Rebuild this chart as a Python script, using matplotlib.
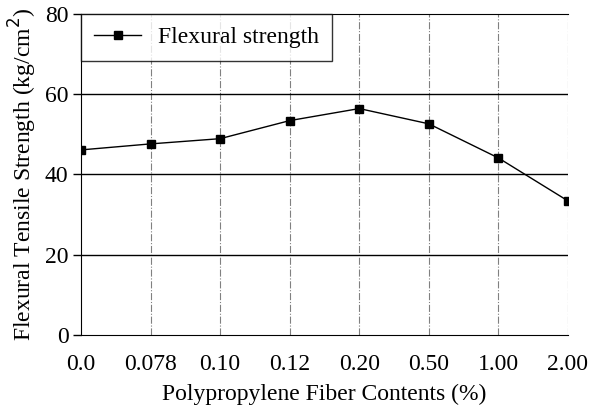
import numpy as np
import matplotlib.pyplot as plt

# Datos
contenidos = ["0.0", "0.078", "0.10", "0.12", "0.20", "0.50", "1.00", "2.00"]
resistencia = [46.1, 47.6, 48.9, 53.4, 56.4, 52.6, 44.1, 33.4]

plt.rcParams['font.family'] = ['Liberation Serif', 'DejaVu Serif']

fig, ax = plt.subplots(figsize=(5.91, 4.07), dpi=100)
fig.subplots_adjust(left=0.137, right=0.961, top=0.966, bottom=0.177)

x = np.arange(len(contenidos))

# Cuadrícula: verticales grises de trazo y punto, horizontales negras
for xi in x[1:]:
    ax.axvline(xi, color='0.5', lw=0.8, ls='-.', zorder=1)
for yv in [20, 40, 60]:
    ax.axhline(yv, color='black', lw=1.0, zorder=1)

ax.plot(x, resistencia, color='black', lw=1.0, marker='s', ms=5.5,
        label='Flexural strength', zorder=3)

ax.set_xlim(0, len(contenidos) - 1)
ax.set_ylim(0, 80)
ax.set_xticks(x)
ax.set_xticklabels(contenidos)
ax.set_yticks([0, 20, 40, 60, 80])
ax.tick_params(axis='x', length=0, pad=14, labelsize=17)
ax.tick_params(axis='y', length=6, width=1, labelsize=17, direction='out', pad=3)

for s in ['left', 'bottom', 'top']:
    ax.spines[s].set_color('black')
ax.spines['right'].set_visible(False)

ax.set_xlabel("Polypropylene Fiber Contents (%)", fontsize=17, labelpad=6)
ax.set_ylabel("Flexural Tensile Strength (kg/cm$^2$)", fontsize=17, labelpad=4)

leg = ax.legend(loc='upper left', fontsize=17, frameon=True, fancybox=False,
                borderaxespad=0, handlelength=2.0, borderpad=0.55,
                handletextpad=0.7)
leg.get_frame().set_edgecolor('black')
leg.get_frame().set_linewidth(1.0)
leg.set_zorder(5)

plt.savefig("out.png", dpi=100)
